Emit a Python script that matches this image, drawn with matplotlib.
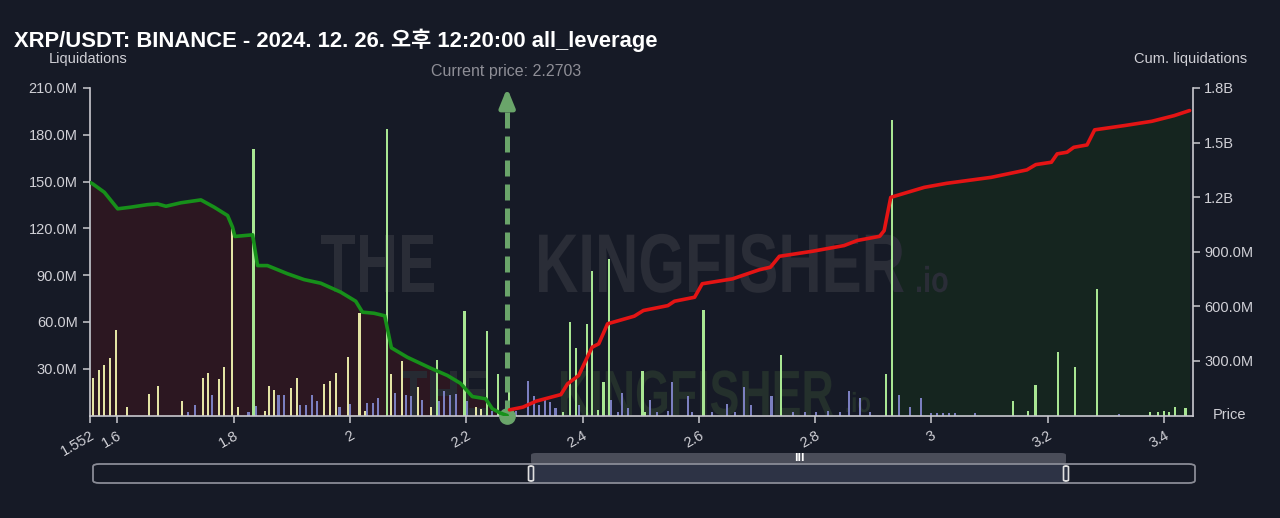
import matplotlib
matplotlib.use("Agg")
import matplotlib.pyplot as plt
from matplotlib.patches import FancyBboxPatch, PathPatch
from matplotlib.textpath import TextPath
from matplotlib.font_manager import FontProperties
import matplotlib.transforms as mtrans

# ---------------- data ----------------
title = "XRP/USDT: BINANCE - 2024. 12. 26. 오후 12:20:00 all_leverage"
current_price = 2.2703
x_min, x_max = 1.552, 3.449
x_ticks = [1.552, 1.6, 1.8, 2.0, 2.2, 2.4, 2.6, 2.8, 3.0, 3.2, 3.4]
x_tick_labels = ["1.552", "1.6", "1.8", "2", "2.2", "2.4", "2.6", "2.8", "3", "3.2", "3.4"]
left_ticks = [30, 60, 90, 120, 150, 180, 210]            # millions
left_tick_labels = ["30.0M", "60.0M", "90.0M", "120.0M", "150.0M", "180.0M", "210.0M"]
right_ticks = [0.3, 0.6, 0.9, 1.2, 1.5, 1.8]              # billions
right_tick_labels = ["300.0M", "600.0M", "900.0M", "1.2B", "1.5B", "1.8B"]

# liquidation bars: price, value (M), type (y = yellow, p = purple, g = green)
bar_prices = [1.5585, 1.568, 1.5775, 1.587, 1.597, 1.616, 1.654, 1.670, 1.711, 1.722,
              1.734, 1.7465, 1.7556, 1.762, 1.775, 1.784, 1.797, 1.807, 1.8255, 1.834,
              1.838, 1.854, 1.860, 1.870, 1.877, 1.886, 1.898, 1.9085, 1.914, 1.924,
              1.934, 1.943, 1.956, 1.9653, 1.9755, 1.982, 1.9967, 2.0001, 2.0163, 2.0254,
              2.029, 2.039, 2.048, 2.0637, 2.070, 2.077, 2.0895, 2.0964, 2.1056, 2.1177,
              2.1245, 2.140, 2.1496, 2.1537, 2.162, 2.172, 2.1817, 2.197, 2.2006, 2.2166,
              2.226, 2.235, 2.245, 2.2545,
              2.274, 2.285, 2.3067, 2.3166, 2.3257, 2.335, 2.3443, 2.3534, 2.366, 2.378,
              2.388, 2.3933, 2.407, 2.417, 2.426, 2.436, 2.4455, 2.449, 2.4616, 2.4677,
              2.4776, 2.503, 2.508, 2.516, 2.528, 2.5467, 2.5536, 2.581, 2.588, 2.608,
              2.623, 2.648, 2.662, 2.678, 2.689, 2.725, 2.7409, 2.762, 2.782, 2.802,
              2.822, 2.842, 2.859, 2.8766, 2.895, 2.9226, 2.932, 2.944, 2.963, 2.9824,
              3.0, 3.01, 3.02, 3.03, 3.04, 3.075, 3.141, 3.166, 3.179, 3.218,
              3.2464, 3.2853, 3.322, 3.3766, 3.39, 3.40, 3.409, 3.419, 3.437]
bar_values = [24.0, 29.4, 32.4, 36.9, 55.0, 5.4, 13.7, 18.9, 9.3, 2.0,
              6.5, 23.8, 27.2, 12.9, 23.4, 30.8, 122.4, 5.2, 2.0, 171.2,
              5.8, 3.0, 18.6, 16.5, 13.3, 13.3, 17.6, 23.8, 6.5, 6.5,
              12.9, 9.3, 20.4, 21.9, 27.2, 5.4, 37.3, 7.5, 65.7, 3.0,
              8.0, 8.0, 11.3, 183.4, 26.8, 14.4, 34.7, 13.3, 12.2, 18.3,
              9.9, 5.4, 35.8, 9.6, 15.6, 12.9, 14.1, 66.8, 9.6, 5.4,
              4.3, 53.9, 3.0, 26.6,
              18.6, 3.0, 21.9, 12.2, 6.7, 9.9, 8.8, 4.5, 2.0, 59.7,
              43.0, 6.7, 58.7, 92.4, 3.7, 21.2, 100.6, 9.9, 2.5, 14.4,
              4.5, 28.3, 2.0, 9.9, 2.0, 3.0, 21.2, 12.8, 2.0, 67.4,
              2.0, 7.1, 2.0, 18.2, 6.7, 12.8, 39.0, 2.0, 2.0, 2.0,
              3.0, 2.5, 15.6, 11.1, 2.5, 26.8, 189.3, 13.3, 5.4, 11.1,
              1.5, 1.5, 1.5, 1.5, 1.5, 1.5, 9.1, 3.2, 19.7, 40.7,
              30.8, 81.3, 1.2, 2.3, 2.5, 3.0, 2.5, 5.4, 5.0]
bar_types = ["y", "y", "y", "y", "y", "y", "y", "y", "y", "p",
             "p", "y", "y", "p", "y", "y", "y", "y", "p", "g",
             "p", "y", "y", "y", "p", "p", "y", "y", "p", "p",
             "p", "p", "y", "y", "y", "p", "y", "p", "y", "y",
             "p", "p", "p", "g", "y", "p", "y", "p", "p", "y",
             "p", "y", "g", "p", "p", "p", "p", "g", "p", "y",
             "y", "g", "p", "g",
             "g", "p", "p", "p", "p", "p", "p", "p", "g", "g",
             "g", "p", "g", "g", "g", "g", "g", "p", "p", "p",
             "p", "g", "g", "p", "p", "p", "p", "p", "p", "g",
             "p", "p", "p", "p", "p", "p", "g", "p", "p", "p",
             "p", "p", "p", "p", "p", "g", "g", "p", "p", "p",
             "p", "p", "p", "p", "p", "p", "g", "g", "g", "g",
             "g", "g", "p", "g", "g", "g", "g", "g", "g"]

# cumulative short liquidations (below current price), billions
short_prices = [1.5535, 1.5575, 1.5775, 1.6005, 1.623, 1.652, 1.669, 1.6835, 1.709, 1.7436,
                1.7664, 1.7895, 1.798, 1.802, 1.8325, 1.841, 1.858, 1.8926, 1.921, 1.9498,
                1.984, 2.0099, 2.0214, 2.0413, 2.0597, 2.0712, 2.0987, 2.1388, 2.1675, 2.190,
                2.2104, 2.2333, 2.2448, 2.259, 2.2703]
short_cum = [1.280, 1.273, 1.227, 1.136, 1.145, 1.159, 1.163, 1.150, 1.169, 1.185,
             1.145, 1.099, 1.035, 0.984, 0.993, 0.824, 0.824, 0.779, 0.747, 0.727,
             0.678, 0.628, 0.568, 0.562, 0.548, 0.372, 0.320, 0.260, 0.220, 0.177,
             0.104, 0.092, 0.037, 0.013, 0.0]

# cumulative long liquidations (above current price), billions
long_prices = [2.2743, 2.2974, 2.3204, 2.3627, 2.3742, 2.3933, 2.4163, 2.4278, 2.443, 2.489,
               2.5046, 2.5467, 2.558, 2.5927, 2.6058, 2.6579, 2.704, 2.7231, 2.7385, 2.796,
               2.8498, 2.8726, 2.911, 2.9187, 2.930, 2.9877, 3.026, 3.1029, 3.1642, 3.1795,
               3.2063, 3.2163, 3.2332, 3.2448, 3.2676, 3.2807, 3.333, 3.379, 3.4173, 3.444]
long_cum = [0.031, 0.046, 0.079, 0.115, 0.174, 0.220, 0.375, 0.394, 0.504, 0.546,
            0.577, 0.604, 0.628, 0.650, 0.724, 0.751, 0.801, 0.815, 0.875, 0.903,
            0.934, 0.962, 0.985, 1.016, 1.199, 1.254, 1.276, 1.309, 1.350, 1.379,
            1.392, 1.438, 1.447, 1.474, 1.487, 1.570, 1.594, 1.617, 1.648, 1.676]

# ---------------- style ----------------
BG = "#161a26"
AXC = "#c9c9cf"
TXT = "#d0d0d6"
bar_colors = {"y": "#e4e4a4", "p": "#7b7fc0", "g": "#a8e692"}
MAROON = "#2c1721"
DKGREEN = "#15251f"
SANS = ["Liberation Sans", "Noto Sans CJK KR", "DejaVu Sans"]
plt.rcParams["font.family"] = SANS

W, H = 1280, 518
fig = plt.figure(figsize=(W / 100, H / 100), dpi=100, facecolor=BG)
L, R, B, T = 89.5, 1192.5, 415.5, 88
pos = [L / W, 1 - B / H, (R - L) / W, (B - T) / H]

ax_fill = fig.add_axes(pos)
ax_fill.set_facecolor(BG)
ax = fig.add_axes(pos)
ax.patch.set_visible(False)
ax_line = fig.add_axes(pos)
ax_line.patch.set_visible(False)
ax_fill.set_zorder(1)
ax.set_zorder(2)
ax_line.set_zorder(3)

# fills (cumulative axis)
ax_fill.fill_between(short_prices, short_cum, 0, color=MAROON, lw=0)
lp = [p for p in long_prices if p >= 2.93]
lc = [c for p, c in zip(long_prices, long_cum) if p >= 2.93]
ax_fill.fill_between(lp, lc, 0, color=DKGREEN, lw=0)

# bars
ax.bar(bar_prices, bar_values, width=0.0036, color=[bar_colors[t] for t in bar_types],
       linewidth=0, zorder=2)

# cumulative lines
ax_line.plot(short_prices, short_cum, color="#17901a", lw=2.6, solid_capstyle="round",
             solid_joinstyle="round")
ax_line.plot(long_prices, long_cum, color="#e41414", lw=2.6, solid_capstyle="round",
             solid_joinstyle="round")

for a in (ax_fill, ax, ax_line):
    a.set_xlim(x_min, x_max)
ax_fill.set_ylim(0, 1.8)
ax_line.set_ylim(0, 1.8)
ax.set_ylim(0, 210)

# current price arrow
ARW = "#6aa56a"
ax.plot([current_price, current_price], [0, 196], color=ARW, lw=3.6,
        ls=(0, (3.2, 1.6)), zorder=5, clip_on=False)
ax.annotate("", xy=(current_price, 210), xytext=(current_price, 197),
            arrowprops=dict(arrowstyle="-|>,head_length=1.1,head_width=0.45", color=ARW,
                            lw=3.6, shrinkA=0, shrinkB=0), zorder=6, annotation_clip=False)
ax.plot([current_price], [0], "o", ms=11, color=ARW, zorder=6, clip_on=False)
fig.text((88.5 + (current_price - 1.552) * 582) / W, 1 - 72 / H,
         "Current price: %.4f" % current_price, color="#8e8e96", fontsize=11.5,
         ha="center", va="center")

# axes styling
for a in (ax_fill, ax, ax_line):
    for s in a.spines.values():
        s.set_visible(False)
ax.spines["left"].set_visible(True)
ax.spines["left"].set_color(AXC)
ax.spines["bottom"].set_visible(True)
ax.spines["bottom"].set_color(AXC)
ax_fill.spines["right"].set_visible(True)
ax_fill.spines["right"].set_color(AXC)
for sp in ("left", "bottom"):
    ax.spines[sp].set_linewidth(1.2)
ax_fill.spines["right"].set_linewidth(1.2)

ax.set_yticks(left_ticks)
ax.set_yticklabels(left_tick_labels)
ax.set_xticks(x_ticks)
ax.set_xticklabels(x_tick_labels, rotation=30, ha="right", rotation_mode="anchor")
ax.tick_params(axis="both", colors=AXC, labelcolor=TXT, labelsize=10.5, length=5,
               width=1.1, direction="out")
ax.tick_params(axis="x", pad=4)

ax_fill.yaxis.tick_right()
ax_fill.set_yticks(right_ticks)
ax_fill.set_yticklabels(right_tick_labels)
ax_fill.tick_params(axis="y", colors=AXC, labelcolor=TXT, labelsize=10.5, length=5,
                    width=1.1, direction="out")
ax_fill.tick_params(axis="x", bottom=False, labelbottom=False)
ax_line.tick_params(bottom=False, left=False, labelbottom=False, labelleft=False)

# labels
fig.text(14 / W, 1 - 40 / H, title, color="white", fontsize=15.8, fontweight="bold",
         ha="left", va="center", family=SANS)
fig.text(88 / W, 1 - 59 / H, "Liquidations", color=TXT, fontsize=10.5, ha="center", va="center")
fig.text(1191 / W, 1 - 59 / H, "Cum. liquidations", color=TXT, fontsize=10.5, ha="center",
         va="center")
fig.text(1230 / W, 1 - 415 / H, "Price", color=TXT, fontsize=10.5, ha="center", va="center")

# watermark (condensed bold text via path)
def watermark(s, x0, y0, h, sx, color):
    fp = FontProperties(family="Liberation Sans", weight="bold")
    tp = TextPath((0, 0), s, size=100, prop=fp)
    scale = h / 72.0
    tr = mtrans.Affine2D().scale(scale * sx, scale).translate(x0, H - y0)
    patch = PathPatch(tr.transform_path(tp), facecolor=color, edgecolor="none",
                      transform=mtrans.IdentityTransform(), zorder=2)
    fig.add_artist(patch)

WM = "#2a2d37"
watermark("THE", 320, 292, 60, 0.70, WM)
watermark("KINGFISHER", 535, 292, 60, 0.72, WM)
watermark(".io", 915, 292, 26, 0.8, WM)
watermark("THE", 400, 415, 46, 0.70, "#262a32")
watermark("KINGFISHER", 558, 415, 46, 0.70, "#24302c")
watermark(".io", 845, 412, 20, 0.8, "#24302c")

# range slider
def px_rect(x0, y0, x1, y1, **kw):
    return FancyBboxPatch((x0 / W, 1 - y1 / H), (x1 - x0) / W, (y1 - y0) / H,
                          transform=fig.transFigure, **kw)

fig.add_artist(px_rect(531, 453, 1066, 464, boxstyle="round,pad=0,rounding_size=0.004",
                       facecolor="#4a4d59", edgecolor="none"))
fig.add_artist(px_rect(531, 464, 1066, 483, boxstyle="square,pad=0",
                       facecolor="#2d3345", edgecolor="none"))
fig.add_artist(px_rect(93, 464, 1195, 483, boxstyle="round,pad=0,rounding_size=0.005",
                       facecolor="none", edgecolor="#8a8c96", lw=1.3))
fig.text(799 / W, 1 - 458 / H, "III", color="white", fontsize=7, fontweight="bold",
         ha="center", va="center", family="DejaVu Sans")
for hx in (531, 1066):
    fig.add_artist(px_rect(hx - 2.5, 466, hx + 2.5, 481,
                           boxstyle="round,pad=0,rounding_size=0.002",
                           facecolor="#2d3345", edgecolor="#e0e0e0", lw=1.2))

fig.savefig("out.png", dpi=100, facecolor=BG)
